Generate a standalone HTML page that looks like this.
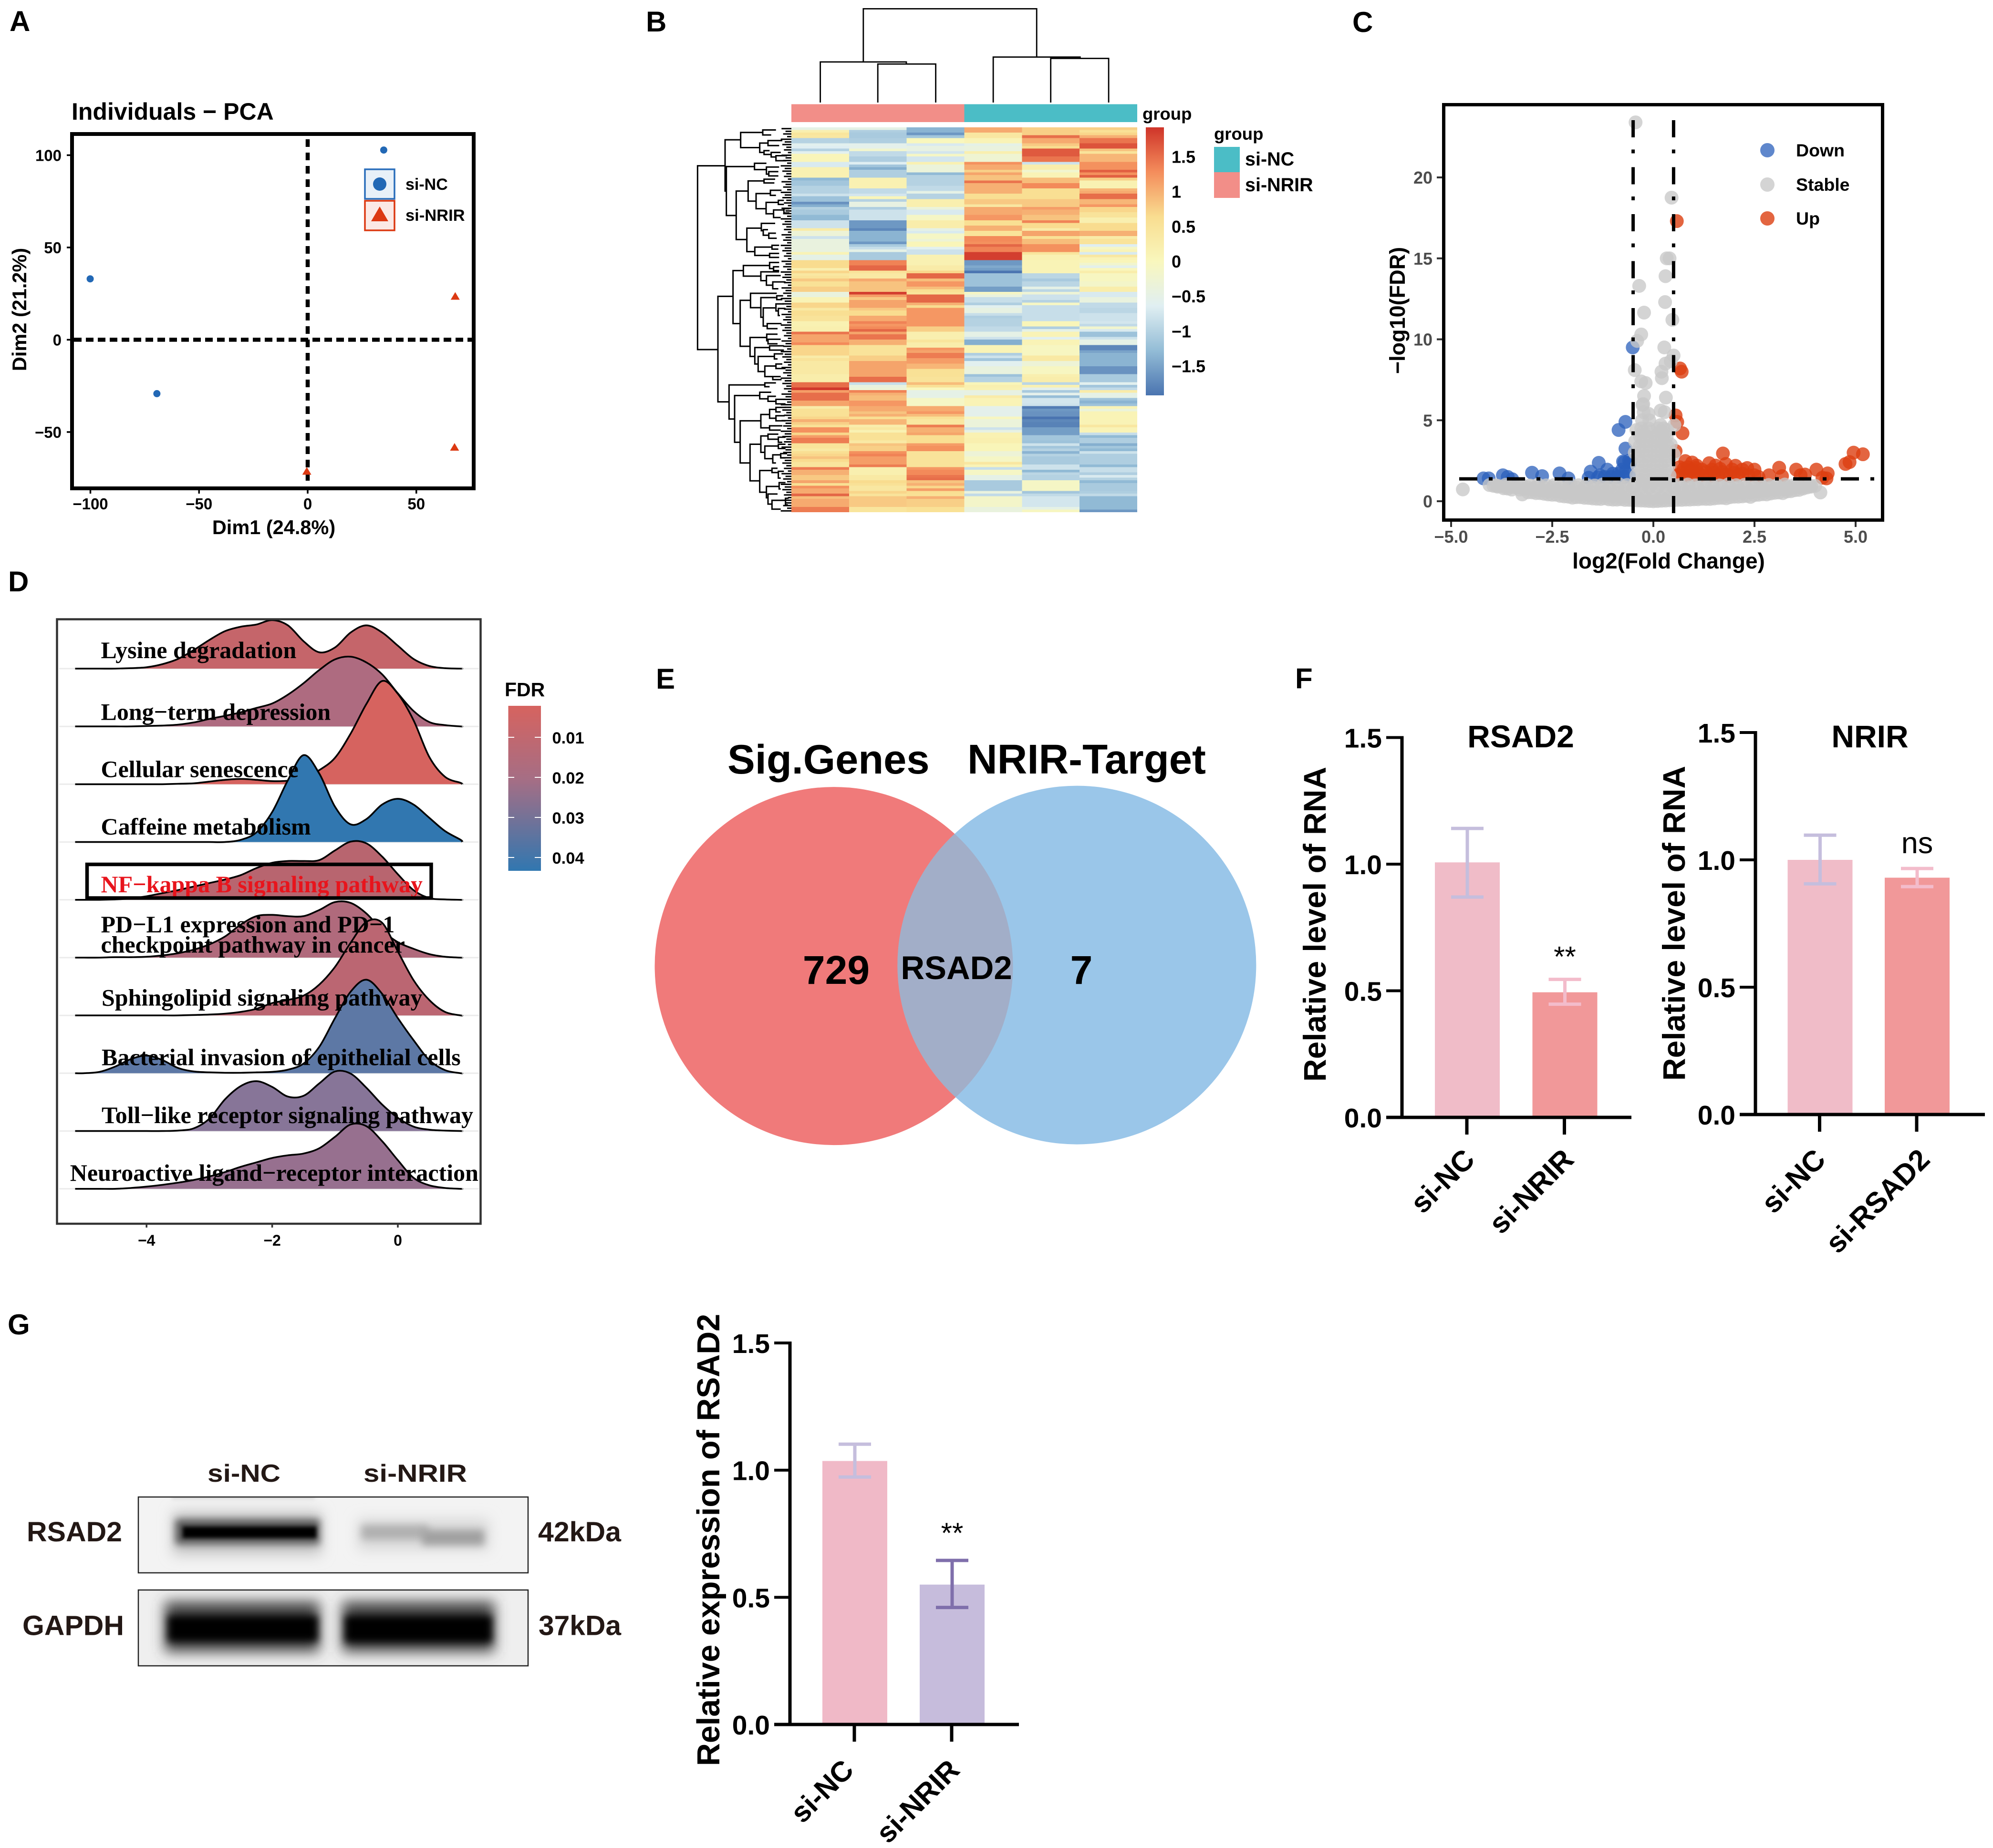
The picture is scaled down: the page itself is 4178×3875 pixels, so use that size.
<!DOCTYPE html>
<html lang="en">
<head>
<meta charset="utf-8">
<title>Multi-panel figure: NRIR knockdown and RSAD2 expression</title>
<style>
html,body{margin:0;padding:0;background:#fff;}
svg{display:block;font-family:"Liberation Sans",Arial,sans-serif;font-weight:bold;}
.serif{font-family:"Liberation Serif","Times New Roman",serif;font-weight:bold;}
.reg{font-weight:normal;}
</style>
</head>
<body>
<svg id="figure" xmlns="http://www.w3.org/2000/svg" width="4178" height="3875" viewBox="0 0 4178 3875">
<defs>
  <linearGradient id="heatRamp" x1="0" y1="0" x2="0" y2="1">
    <stop offset="0" stop-color="#cf3429"/><stop offset=".1667" stop-color="#f48d5c"/><stop offset=".3333" stop-color="#f9dd90"/><stop offset=".5" stop-color="#f9f7bd"/><stop offset=".6667" stop-color="#e0eff2"/><stop offset=".8333" stop-color="#93bcd6"/><stop offset="1" stop-color="#4a74b0"/>
  </linearGradient>
  <linearGradient id="fdrRamp" x1="0" y1="0" x2="0" y2="1">
    <stop offset="0" stop-color="#d6635f"/><stop offset=".45" stop-color="#a56e85"/><stop offset="1" stop-color="#3177b0"/>
  </linearGradient>
  <filter id="blur4" x="-20%" y="-150%" width="140%" height="400%"><feGaussianBlur stdDeviation="4"/></filter>
  <filter id="blur8" x="-20%" y="-150%" width="140%" height="400%"><feGaussianBlur stdDeviation="8"/></filter>
  <filter id="blur14" x="-20%" y="-150%" width="140%" height="400%"><feGaussianBlur stdDeviation="14"/></filter>
  <clipPath id="vennClip"><circle cx="1748" cy="2025.6" r="375.5"/></clipPath>
  <clipPath id="blotTop"><rect x="290" y="3139" width="817" height="159"/></clipPath>
  <clipPath id="blotBottom"><rect x="290" y="3334" width="817" height="159"/></clipPath>
</defs>

<rect width="4178" height="3875" fill="#fff"/>

<!-- panel letters -->
<text x="20" y="65" font-size="60">A</text>
<text x="1354" y="66" font-size="60">B</text>
<text x="2835" y="67" font-size="60">C</text>
<text x="17" y="1240" font-size="60">D</text>
<text x="1375" y="1444" font-size="60">E</text>
<text x="2715" y="1443" font-size="60">F</text>
<text x="16" y="2798" font-size="60">G</text>

<!-- A: PCA -->
<g id="panelA">
  <text x="150" y="251" font-size="50">Individuals − PCA</text>
  <text x="574" y="1120" font-size="41.5" text-anchor="middle">Dim1 (24.8%)</text>
  <text transform="translate(55 649) rotate(-90)" font-size="41.5" text-anchor="middle">Dim2 (21.2%)</text>
  <g>
    <rect x="765" y="355" width="62" height="62" fill="#e8f0f8" stroke="#2a6ebb" stroke-width="3.5"/>
    <circle cx="796" cy="386" r="14" fill="#2268b5"/>
    <rect x="765" y="421" width="62" height="62" fill="#fbe9e5" stroke="#dc3912" stroke-width="3.5"/>
    <polygon points="796,433 814,464 778,464" fill="#dc3912"/>
    <text x="850" y="398" font-size="34">si-NC</text>
    <text x="850" y="463" font-size="34.5">si-NRIR</text>
  </g>
</g>

<!-- B: heatmap -->
<g id="panelB">
  <rect x="1659" y="218.5" width="362.5" height="37.5" fill="#f28e88"/>
  <rect x="2021.5" y="218.5" width="362.5" height="37.5" fill="#4bbdc6"/>
  <text x="2395" y="251" font-size="36.5">group</text>
  <rect x="2402" y="267" width="38" height="562" fill="url(#heatRamp)"/>
  <text x="2545" y="293" font-size="36.5">group</text>
  <rect x="2545" y="308" width="54" height="53" fill="#4bbdc6"/>
  <rect x="2545" y="361" width="54" height="54" fill="#f28e88"/>
  <text x="2610" y="347" font-size="39.5">si-NC</text>
  <text x="2610" y="401" font-size="39.5">si-NRIR</text>
</g>

<!-- C: volcano -->
<g id="panelC">
  <text x="3498" y="1192" font-size="46" text-anchor="middle">log2(Fold Change)</text>
  <text transform="translate(2945 651) rotate(-90)" font-size="45" text-anchor="middle">−log10(FDR)</text>
</g>

<!-- D: ridges -->
<g id="panelD"></g>

<!-- E: Venn -->
<g id="panelE">
  <circle cx="1748" cy="2025.6" r="375.5" fill="#f07a7a"/>
  <circle cx="2257.4" cy="2023.6" r="376" fill="#9ac6e9"/>
  <circle cx="2257.4" cy="2023.6" r="376" fill="#a2aec8" clip-path="url(#vennClip)"/>
  <text x="1525" y="1622" font-size="86.6">Sig.Genes</text>
  <text x="2028" y="1622" font-size="86.8">NRIR-Target</text>
  <text x="1753" y="2063" font-size="84" text-anchor="middle">729</text>
  <text x="2005" y="2053" font-size="68.8" text-anchor="middle">RSAD2</text>
  <text x="2267" y="2063" font-size="84" text-anchor="middle">7</text>
</g>

<!-- F & G charts -->
<g id="panelF"></g>
<g id="panelG2"></g>

<!-- G: western blot -->
<g id="panelG">
  <text x="435" y="3107" font-size="52" textLength="153" lengthAdjust="spacingAndGlyphs" fill="#231815">si-NC</text>
  <text x="762" y="3107" font-size="52" textLength="217" lengthAdjust="spacingAndGlyphs" fill="#231815">si-NRIR</text>
  <g clip-path="url(#blotTop)">
    <rect x="290" y="3139" width="817" height="159" fill="#f3f3f3"/>
    <rect x="360" y="3132" width="300" height="12" fill="#dcdcdc" filter="url(#blur4)"/>
    <rect x="362" y="3170" width="312" height="90" fill="#c4c4c4" filter="url(#blur14)"/>
    <rect x="368" y="3186" width="302" height="52" fill="#555" filter="url(#blur8)"/>
    <rect x="383" y="3201" width="280" height="24" fill="#000" filter="url(#blur4)"/>
    <rect x="750" y="3185" width="275" height="65" fill="#d8d8d8" filter="url(#blur14)"/>
    <rect x="758" y="3198" width="140" height="30" fill="#b0b0b0" filter="url(#blur8)"/>
    <rect x="885" y="3208" width="130" height="32" fill="#a0a0a0" filter="url(#blur8)"/>
  </g>
  <rect x="290" y="3139" width="817" height="159" fill="none" stroke="#222" stroke-width="2.5"/>
  <g clip-path="url(#blotBottom)">
    <rect x="290" y="3334" width="817" height="159" fill="#efefef"/>
    <rect x="345" y="3358" width="325" height="106" fill="#444" filter="url(#blur14)"/>
    <rect x="717" y="3358" width="320" height="106" fill="#444" filter="url(#blur14)"/>
    <rect x="352" y="3388" width="314" height="54" fill="#000" filter="url(#blur8)"/>
    <rect x="723" y="3388" width="308" height="56" fill="#000" filter="url(#blur8)"/>
  </g>
  <rect x="290" y="3334" width="817" height="159" fill="none" stroke="#222" stroke-width="2.5"/>
  <text x="56" y="3232" font-size="58" textLength="200" lengthAdjust="spacingAndGlyphs" fill="#231815">RSAD2</text>
  <text x="47" y="3428.5" font-size="58" textLength="213" lengthAdjust="spacingAndGlyphs" fill="#231815">GAPDH</text>
  <text x="1128" y="3232" font-size="58" textLength="174" lengthAdjust="spacingAndGlyphs" fill="#231815">42kDa</text>
  <text x="1129" y="3428.5" font-size="58" textLength="173" lengthAdjust="spacingAndGlyphs" fill="#231815">37kDa</text>
</g>

<script>
/* ---------- Panel A data ---------- */
const pcaTicksX = [-100, -50, 0, 50];
const pcaTicksY = [-50, 0, 50, 100];
const pcaNcDim1 = [35, -100.1, -69.4];
const pcaNcDim2 = [102.8, 33, -29.2];
const pcaNrirDim1 = [67.9, 67.6, -0.4];
const pcaNrirDim2 = [23.5, -58.3, -71.3];

/* ---------- Panel B data: z-scores, one array per sample, one value per gene row ---------- */
const heatSampleNrir1 = [-.5,.2,.45,.4,-1,-1,-.6,-.65,-1,-.6,.05,.05,.05,-.7,-.7,.15,.15,.15,.15,-1.3,-1.15,-1.15,-1,-1,-1,-.8,-1.2,-1.2,-1.65,-1.4,-1,-1.1,-1.1,-1.3,-1.3,-.8,-.8,-.8,.3,-.3,-.3,-.8,-.4,-.4,-.4,-.4,-.4,.1,-.5,-.5,.65,.65,.65,.2,.7,.4,.5,.8,.55,.55,.75,.75,-.4,-.4,.1,.1,.7,.7,.35,.6,.6,.5,.5,.15,.15,.2,.2,1.45,1.1,1.1,1.1,1.3,.7,.7,.7,.7,.3,.5,.35,.35,.35,.35,.35,.25,.25,.25,1.5,1.5,1.9,1.15,1.5,1.5,1.5,1.1,1.1,.3,.55,.55,.55,.7,1,.75,.55,1.25,1.25,.7,1.15,1.4,1.4,.5,.5,.35,.6,.7,.85,.65,.45,.45,1.4,1,1,.8,.8,1.1,.6,1.25,1.05,1.05,1.55,.9,1.05,1.05,1.05,1.4,1.4];
const heatSampleNrir2 = [-.5,-1.05,-1.1,-1.1,-1.05,-1.05,-.55,-.55,-.2,-.9,-.9,-1.05,-1.05,-.65,-1.15,-1.4,-1.05,-1.05,-1.05,.15,.15,.15,.15,-.9,-.9,-.75,.05,-1,-.45,-.45,-1.05,-.8,-.8,-.8,-.8,-1.6,-1.6,-1.6,-1.75,-1.35,-1.35,-1.35,-1.35,-1.6,-1.1,-.85,-.5,-1.1,-1.1,-1.1,1.35,1.35,1.55,1.55,.5,.35,.35,1.05,.85,.85,.85,.85,1.85,1.15,.8,1.1,1.1,1.1,.8,.65,.65,1.05,1.05,1.35,1.2,1.3,1.55,1.1,1.45,1.45,1,1,.5,.5,.5,.5,.75,.75,1.1,1.1,1.1,1.1,1.1,1.1,1.5,1.5,-.85,-.4,-.3,1.35,1,.9,.9,1.2,1.2,1.05,1.05,.85,1,.6,.95,.95,.25,.4,.15,.55,.55,.55,.35,.85,.75,.75,1.25,1.35,1.15,1.15,1.15,1.4,.2,.2,.2,.35,.35,.65,.55,.4,.4,.7,.5,.8,.8,.8,.8,.45,.45];
const heatSampleNrir3 = [-1.35,-1.35,-1.6,-1.15,0,0,-.7,-.45,-.45,-.75,-.1,-.75,-.75,.15,-.35,-.35,-.35,-1.3,-1,-1,-1,-1,-.9,-.9,-.5,-1,-1,.2,.2,.2,-.35,-.7,-.7,-.1,-.1,.25,.25,.25,-.5,-.7,-.1,-.1,-.3,.05,.05,-.6,-.8,-.8,.15,.15,.15,.15,.3,.3,.7,1.55,1.55,.9,1.2,1.2,.9,.6,.5,1.55,1.55,1.55,1,.65,1.2,1.2,1.2,1.2,1.2,1.2,1.2,.75,.75,.2,.2,.2,.45,.25,.25,1.2,1.1,1.4,1.4,1.15,1.15,.95,.95,.55,.55,.55,.5,.5,.9,.55,0,-.5,-.5,-.5,-.1,-.1,-.1,1.05,1.05,1.2,.9,.55,.4,.4,1.4,1,1,1.1,.6,.6,.6,1.15,1.25,1.25,.5,.5,.5,.5,.5,.5,1.2,1.3,1.3,1.45,1.5,.85,1,.7,1.15,.6,.55,1,.75,.75,.75,.55,.55];
const heatSampleNc1 = [1.05,1.05,.4,.4,.1,.1,-.5,-.4,-.4,.2,-.25,-.25,-.25,1.25,1.05,1.05,.75,1.1,.85,.85,1.45,1,1,1,1,.6,.6,.8,.8,.4,1.05,1.05,1.05,1.2,1.2,.6,.6,1,1,.5,.5,1.3,1.3,1.25,1.55,1.35,1.35,1.85,1.85,1.85,-1.6,-1.6,-1.45,-1.55,-1.9,-1.2,-1.2,-1.2,-1.2,-1.2,-1.55,-1.55,-.1,-.4,-.85,-.85,-1.05,-.6,-.45,-.45,-.85,-1.05,-1,-1,-1,-.9,-.9,-.5,-.5,-.8,-1.4,-1.4,.1,.1,.1,-1.05,-.8,-1.15,-.6,-.6,-.4,-.4,-.4,-1.2,-1,-1,.05,.2,.15,-.45,-.45,.3,.1,.1,.1,-.55,-.55,-.55,-.55,-.05,-.35,-.35,-.35,-.8,-.45,.15,.15,.2,.2,.05,.05,.05,-.3,-.3,-.1,-.1,.4,.1,-.85,-.1,-.1,-.5,-.5,-1.1,-1.1,-1.1,-1.1,-.4,-.9,-.15,-.15,-.15,-.15,-.4,-.4];
const heatSampleNc2 = [.75,.75,.75,1.5,1.05,1.05,.8,.65,1.65,1.65,1.65,1.45,1.45,-.8,.25,.25,-.2,.1,.1,.9,.9,1.3,1.3,.6,.6,.6,.6,.8,.8,.8,1.15,1,1,.85,.85,1.35,.65,.65,.3,1.1,1.1,.55,.9,.9,1.25,1.25,1.25,.45,.15,.15,.1,.1,.1,.1,.1,-.95,-.95,-1.1,-.95,-.95,-.5,-.95,-.3,-.8,-.8,-1,-.1,-.85,-.85,-.85,-.85,-.85,-.85,.05,.05,-1.05,-.5,.1,.1,-.6,.1,.1,-.05,-.05,-.05,-.05,.35,.35,-.3,-.3,-.05,-.05,-.05,.2,.25,.25,-.95,.15,-.55,-1.1,-.55,-1.25,-.75,-.75,-.8,-1.85,-1.6,-1.65,-1.65,-1.92,-1.75,-1.8,-1.8,-1.55,-1.55,-1.55,-1.15,-1.15,-1.2,-.8,-1.15,-1,-1.35,-1,-1.1,-1.1,-1.1,-.8,-.8,-1.3,-.95,-1,-1,-.1,-.1,-.1,-.1,-1.15,-.9,-.75,-.75,-.75,-.75,-.5,-.05];
const heatSampleNc3 = [.75,.55,.7,1,1.45,1.45,1.7,1.7,.85,.5,.95,.95,.95,1.25,1.25,1.25,1.6,1.25,1.6,.75,.15,.15,.15,.95,1.05,1.5,1.5,.95,.95,1.2,.7,.7,.5,.5,.2,.2,.65,.65,.65,1,1,.3,.5,.5,-.65,-.1,.1,-.7,.4,.1,.05,-.2,-.55,0,.25,-.05,-.05,-.05,-.15,-.15,.25,.25,-.7,-.7,-.4,-.4,-.9,-.9,-.95,-.95,-.8,-.8,-.8,-.75,-.9,-.2,-.7,-1.2,-1.2,-.8,-.5,-.5,-1.75,-1.75,-1.5,-1.35,-1.35,-1.35,-1.35,-1.35,-1.65,-1.65,-1.65,-1.1,-1.1,-1.1,-.6,-1.15,-.9,.3,-.5,-.5,-1.2,-1.35,-1.2,.1,-.35,.1,.1,.1,.1,.1,.4,.1,.1,-.85,-1.3,-1.05,-1.05,-1.4,-1.15,-1.3,-.8,-1.05,-1.05,-1.05,-1.05,-1.3,-.85,-.85,-1.05,-.7,-1,-1.3,-1.1,-1.1,-1.1,-1.05,-.9,-1.3,-1.3,-1.3,-1.3,-1.3,-1.6];
const heatColorbarTicks = [1.5, 1, 0.5, 0, -0.5, -1, -1.5];

/* ---------- Panel C data ---------- */
const volcanoTicksX = [-5, -2.5, 0, 2.5, 5];
const volcanoTicksY = [0, 5, 10, 15, 20];
const volcanoFoldCutoffs = [-0.5, 0.5];
const volcanoFdrCutoff = 1.38;
const volcanoDown = [[-.51,9.5],[-.69,4.9],[-.86,4.4],[-.69,3.25],[-.72,2.4],[-.57,2.4],[-1.35,2.37],[-1.55,1.83],[-1.14,1.95],[-1,1.7],[-.77,1.95],[-3,1.76],[-2.75,1.55],[-2.32,1.72],[-2.1,1.41],[-3.72,1.6],[-3.49,1.36],[-4.2,1.41],[-4.07,1.41],[-1.37,1.48],[-.75,2.45],[-.6,2.5],[-.86,1.7],[-.68,1.85],[-1.6,1.45],[-1.32,1.6],[-3.6,1.5],[-.9,1.5],[-.6,1.7],[-.72,1.5],[-1.2,1.5],[-1.05,1.5]];
const volcanoUp = [[.58,17.3],[.66,8.2],[.7,8],[.55,5.3],[.59,4.9],[.72,4.2],[.55,3.1],[1.72,2.95],[4.95,3],[5.18,2.9],[4.85,2.42],[4.75,2.3],[3.11,2.07],[3.53,1.95],[4.03,1.95],[4.31,1.72],[4.28,1.41],[2.03,2.19],[1.38,2.35],[.79,2.48],[.96,2.39],[1.07,2.2],[1.54,2.2],[1.79,2.3],[2.32,2.05],[2.5,1.95],[2.86,1.6],[3.18,1.55],[3.64,1.6],[3.75,1.65],[4.18,1.45],[.6,1.6],[.7,1.75],[.8,1.55],[.9,1.8],[1,1.6],[1.1,1.75],[1.2,1.6],[1.3,1.8],[1.4,1.55],[1.5,1.75],[1.6,1.6],[1.7,1.8],[1.8,1.65],[1.9,1.55],[2,1.75],[2.1,1.6],[2.2,1.7],[2.35,1.6],[2.5,1.6],[2.6,1.5],[.65,2.1],[.75,2],[.85,2.1],[.95,1.95],[1.05,2.05],[1.2,1.95],[1.45,1.95],[1.65,2],[1.95,1.95],[2.2,1.95]];
const volcanoStable = [[-.44,23.4],[.45,18.75],[.4,15],[.33,15],[.3,13.9],[-.35,13.3],[-.23,11.65],[.29,12.3],[.47,11.2],[-.3,10.3],[-.4,9.9],[.27,9.5],[.5,9],[.3,8.5],[.43,8.65],[-.46,8.1],[.2,8],[.21,7.6],[-.3,7.4],[-.19,7.3],[-.23,6.5],[.31,6.4],[-.27,5.95],[.18,5.6],[.28,5.5],[-4.71,.73],[4.13,.54],[-3.24,.42],
[-4.05,1],[-3.85,.95],[-3.65,1.02],[-3.45,.98],[-3.25,1],[-3.05,.97],[-2.85,1.03],[-2.65,.98],[-2.45,1],[-2.25,.96],[-2.05,1.02],[-1.85,.99],[-1.65,1.01],[-1.45,.97],[-1.25,1.03],[-1.05,1],[-.85,1.05],[-.65,1],[-.45,1.1],[-.25,1.05],[-.05,1.02],[.15,1.05],[.3,1.08],[.45,1.1],[.65,1],[.85,1.03],[1.05,.98],[1.25,1.02],[1.45,1],[1.65,.97],[1.85,1.03],[2.05,.99],[2.25,1.01],[2.45,.96],[2.65,1.02],[2.85,1],[3.05,.98],[3.25,1.03],[3.45,.97],[3.65,1],[3.85,.96],[4,.95],
[-3.95,.95],[-3.7,.8],[-3.5,.72],[-3,.55],[-2.8,.5],[-2.6,.42],[-2.4,.4],[-2.2,.3],[-2,.22],[-1.8,.25],[-1.6,.2],[-1.4,.15],[-1.2,.18],[-1,.1],[-.8,.12],[-.6,.08],[-.4,.05],[-.2,.03],[0,0],[.2,.03],[.4,.06],[.6,.08],[.8,.1],[1,.12],[1.2,.15],[1.4,.14],[1.6,.2],[1.8,.18],[2,.28],[2.2,.3],[2.4,.27],[2.6,.4],[2.8,.42],[3,.52],[3.2,.5],[3.4,.62],[3.6,.7],[3.8,.85],
[-3.3,.72],[-3,.78],[-2.7,.66],[-2.4,.7],[-2.1,.6],[-1.8,.62],[-1.5,.55],[-1.2,.6],[-.9,.52],[-.6,.55],[-.3,.5],[0,.52],[.3,.5],[.6,.55],[.9,.58],[1.2,.55],[1.5,.6],[1.8,.58],[2.1,.66],[2.4,.62],[2.7,.72],[3,.76],[3.3,.74],
[-3.6,.92],[-3.4,.85],[-3.2,.75],[-3,.72],[-2.8,.7],[-2.6,.62],[-2.4,.6],[-2.2,.52],[-2,.48],[-1.8,.46],[-1.6,.42],[-1.4,.38],[-1.2,.36],[-1,.32],[-.8,.3],[-.6,.28],[-.4,.26],[-.2,.24],[0,.22],[.2,.24],[.4,.26],[.6,.28],[.8,.3],[1,.32],[1.2,.36],[1.4,.38],[1.6,.42],[1.8,.44],[2,.48],[2.2,.52],[2.4,.56],[2.6,.62],[2.8,.66],[3,.72],[3.2,.76],[3.4,.82],[3.6,.88],
[-3.85,.9],[-3.6,.78],[-3.1,.55],[-2.9,.5],[-2.7,.46],[-2.5,.4],[-2.3,.33],[-2.1,.28],[-1.9,.25],[-1.7,.21],[-1.5,.17],[-1.3,.14],[-1.1,.12],[-.9,.1],[-.7,.08],[-.5,.06],[-.3,.04],[-.1,.01],[.1,.01],[.3,.04],[.5,.06],[.7,.08],[.9,.1],[1.1,.12],[1.3,.14],[1.5,.17],[1.7,.21],[1.9,.25],[2.1,.28],[2.3,.33],[2.5,.38],[2.7,.43],[2.9,.48],[3.1,.54],[3.3,.6],[3.5,.68],[3.7,.78],[3.9,.9],
[-3.9,.98],[-3.7,.9],[-3.5,.88],[-3.3,.88],[-3.1,.85],[-2.9,.85],[-2.7,.85],[-2.5,.85],[-2.3,.85],[-2.1,.85],[-1.9,.85],[-1.7,.85],[-1.5,.85],[-1.3,.85],[-1.1,.85],[-.9,.85],[-.7,.85],[-.5,.85],[-.3,.85],[-.1,.85],[.1,.85],[.3,.85],[.5,.85],[.7,.85],[.9,.85],[1.1,.85],[1.3,.85],[1.5,.85],[1.7,.85],[1.9,.85],[2.1,.85],[2.3,.85],[2.5,.85],[2.7,.85],[2.9,.85],[3.1,.85],[3.3,.88],[3.5,.88],[3.7,.9],[3.9,.95],
[-.42,1.6],[-.2,1.6],[0,1.6],[.2,1.6],[.4,1.6],[-.4,2.2],[-.2,2.2],[0,2.2],[.2,2.2],[.38,2.2],[-.38,2.8],[-.18,2.8],[.02,2.8],[.2,2.8],[.36,2.8],[-.34,3.4],[-.18,3.4],[.03,3.4],[.2,3.4],[.36,3.4],[-.33,4],[-.16,4],[.05,4],[.22,4],[.33,4],[-.3,4.5],[-.12,4.5],[.12,4.5],[.25,4.5],[.34,4.4],[-.28,5],[-.1,5],[.18,4.7],[-.24,5.5],[-.12,5.4],[-.25,6],[-.42,4.4],[-.45,3.7],[-.46,3],[.43,3.5],[.5,2.9],[.52,4.7],
[-.3,1.3],[-.1,1.3],[.1,1.3],[.3,1.3],[-.3,1.9],[-.1,1.9],[.1,1.9],[.3,1.9],[-.3,2.5],[-.1,2.5],[.1,2.5],[.3,2.5],[-.28,3.1],[-.08,3.1],[.12,3.1],[.3,3.1],[-.26,3.7],[-.08,3.7],[.12,3.7],[.28,3.7],[-.25,4.3],[-.08,4.3],[.16,4.3],[.28,4.2]];

/* ---------- Panel D data ---------- */
const ridgeGrid = [-5,-4.75,-4.5,-4.25,-4,-3.75,-3.5,-3.25,-3,-2.75,-2.5,-2.25,-2,-1.75,-1.5,-1.25,-1,-.75,-.5,-.25,0,.25,.5,.75,1];
const ridgeLysine = [0,0,0,1,3,10,22,42,65,85,95,100,110,98,62,37,48,82,98,82,52,22,6,1,0];
const ridgeLongTerm = [0,0,0,0,1,2,4,9,17,24,32,42,52,72,98,128,152,158,145,118,75,35,10,3,0];
const ridgeSenescence = [0,0,0,0,0,0,1,2,6,10,12,10,7,8,14,32,60,115,182,234,205,145,62,17,3];
const ridgeCaffeine = [0,0,0,0,0,0,0,0,0,0,5,22,68,140,197,155,80,40,52,85,98,85,55,25,5];
const ridgeNfkb = [0,0,1,3,8,15,22,30,38,46,56,72,84,88,88,90,112,132,128,98,58,22,4,1,0];
const ridgePdl1 = [0,0,1,1,2,5,10,18,30,48,75,94,97,94,94,108,126,124,100,62,35,20,8,2,0];
const ridgeSphingolipid = [0,0,0,0,0,0,0,1,2,4,8,15,28,35,45,70,110,165,212,210,145,80,35,8,0];
const ridgeBacterial = [0,3,15,32,40,30,12,4,2,1,1,2,3,8,22,60,125,185,212,180,125,75,30,7,0];
const ridgeToll = [0,0,0,0,0,0,1,6,28,72,102,113,100,78,80,108,135,130,98,60,30,10,3,1,0];
const ridgeNeuroactive = [0,0,0,2,5,9,14,20,28,38,50,60,70,76,80,92,118,146,142,108,65,25,8,2,0];
const ridgeTicks = [-4, -2, 0];
const fdrTicks = ["0.01", "0.02", "0.03", "0.04"];

/* ---------- Panels F and G data ---------- */
const barAxisTicks = [0, 0.5, 1, 1.5];
const rsad2RnaGroups = ["si-NC", "si-NRIR"];
const rsad2RnaMeans = [1.007, 0.494];
const rsad2RnaUpper = [1.141, 0.545];
const rsad2RnaLower = [0.87, 0.447];
const nrirRnaGroups = ["si-NC", "si-RSAD2"];
const nrirRnaMeans = [1.0, 0.93];
const nrirRnaUpper = [1.097, 0.966];
const nrirRnaLower = [0.906, 0.895];
const rsad2ProteinGroups = ["si-NC", "si-NRIR"];
const rsad2ProteinMeans = [1.036, 0.55];
const rsad2ProteinUpper = [1.102, 0.645];
const rsad2ProteinLower = [0.973, 0.46];

/* ---------- helpers ---------- */
const SVGNS = "http://www.w3.org/2000/svg";
function el(tag, attrs, parent) {
  const e = document.createElementNS(SVGNS, tag);
  for (const k in attrs) e.setAttribute(k, attrs[k]);
  parent.appendChild(e);
  return e;
}
function fmtMinus(v) { return String(v).replace("-", "\u2212"); }
function smoothPath(pts) {
  let d = "M" + pts[0][0] + " " + pts[0][1];
  for (let i = 0; i < pts.length - 1; i++) {
    const p0 = pts[Math.max(i - 1, 0)], p1 = pts[i], p2 = pts[i + 1], p3 = pts[Math.min(i + 2, pts.length - 1)];
    const c1x = p1[0] + (p2[0] - p0[0]) / 6, c1y = p1[1] + (p2[1] - p0[1]) / 6;
    const c2x = p2[0] - (p3[0] - p1[0]) / 6, c2y = p2[1] - (p3[1] - p1[1]) / 6;
    d += "C" + c1x.toFixed(1) + " " + c1y.toFixed(1) + " " + c2x.toFixed(1) + " " + c2y.toFixed(1) + " " + p2[0].toFixed(1) + " " + p2[1].toFixed(1);
  }
  return d;
}

/* ---------- Panel A ---------- */
(function () {
  const g = document.getElementById("panelA");
  const x = v => 645 + 4.555 * v;
  const y = v => 712.4 - 3.87 * v;
  pcaTicksX.forEach(t => {
    const m = el("line", { x1: x(t), x2: x(t), y1: 1024, y2: 1035, stroke: "#000", "stroke-width": 3.5 }, g);
    
    
    const l = el("text", { x: x(t), y: 1068, "font-size": 33, "text-anchor": "middle" }, g);
    
    
    l.textContent = fmtMinus(t);
  });
  pcaTicksY.forEach(t => {
    const m = el("line", { x1: 140, x2: 151, y1: y(t), y2: y(t), stroke: "#000", "stroke-width": 3.5 }, g);
    
    
    const l = el("text", { x: 129, y: y(t) + 12, "font-size": 33, "text-anchor": "end" }, g);
    
    
    l.textContent = fmtMinus(t);
  });
  const v0 = el("line", { x1: x(0), x2: x(0), y1: 292, y2: 1020, stroke: "#000", "stroke-width": 8.5, "stroke-dasharray": "16 12" }, g);
  
  
  const h0 = el("line", { x1: 155, x2: 989, y1: y(0), y2: y(0), stroke: "#000", "stroke-width": 8.5, "stroke-dasharray": "16 9" }, g);
  
  
  pcaNcDim1.forEach((d, i) => {
    const p = el("circle", { cx: x(d), cy: y(pcaNcDim2[i]), r: 7.5, fill: "#2268b5" }, g);
    
    
  });
  pcaNrirDim1.forEach((d, i) => {
    const cx = x(d), cy = y(pcaNrirDim2[i]);
    const p = el("polygon", { points: cx + "," + (cy - 9) + " " + (cx + 9.5) + "," + (cy + 7) + " " + (cx - 9.5) + "," + (cy + 7), fill: "#dc3912" }, g);
    
    
  });
  const frame = el("rect", { x: 151, y: 281, width: 842, height: 743, fill: "none", stroke: "#000", "stroke-width": 8 }, g);
  
  
})();

/* ---------- Panel B ---------- */
(function () {
  const g = document.getElementById("panelB");
  const samples = [heatSampleNrir1, heatSampleNrir2, heatSampleNrir3, heatSampleNc1, heatSampleNc2, heatSampleNc3];
  const stops = [[-1.92,[74,116,176]],[-1.28,[147,188,214]],[-.64,[224,239,242]],[0,[249,247,189]],[.64,[249,221,144]],[1.28,[244,141,92]],[1.92,[207,52,41]]];
  function color(v) {
    v = Math.max(-1.92, Math.min(1.92, v));
    for (let i = 0; i < stops.length - 1; i++) {
      if (v <= stops[i + 1][0]) {
        const t = (v - stops[i][0]) / (stops[i + 1][0] - stops[i][0]);
        const c = stops[i][1].map((a, k) => Math.round(a + (stops[i + 1][1][k] - a) * t));
        return "rgb(" + c.join(",") + ")";
      }
    }
    return "rgb(207,52,41)";
  }
  const colX = c => 1659 + c * 120.83;
  const rowY = (r, n) => 267 + r * 807 / n;
  samples.forEach((arr, c) => {
    arr.forEach((v, r) => {
      const cell = el("rect", { x: colX(c), y: rowY(r, arr.length), width: 120.83, height: 807 / arr.length, fill: color(v), "shape-rendering": "crispEdges" }, g);
      
      
    });
  });
  const cbY = v => 548 - 146.4 * v;
  heatColorbarTicks.forEach(t => {
    const l = el("text", { x: 2456, y: cbY(t) + 13, "font-size": 36 }, g);
    
    
    l.textContent = fmtMinus(t);
  });

  /* column dendrogram */
  const topBrackets = [[459,866,25,177,163],[358,560,177,293,183],[493,629,183,293,293],[764,968,163,293,167],[899,1035,167,293,293]];
  topBrackets.forEach(b => {
    const X = z => 1400 + z / 1.12, Y = z => z / 1.363;
    const p = el("path", { d: "M" + X(b[0]) + " " + Y(b[3]) + "V" + Y(b[2]) + "H" + X(b[1]) + "V" + Y(b[4]), fill: "none", stroke: "#000", "stroke-width": 2.8 }, g);
    
    
  });

  /* row dendrogram */
  const branches = [[37,175,903,210,165],[210,72,275,308,218],[308,43,103,447,428],[447,33,53,530,500],[428,85,122,480,455],[480,75,95,570,550],[455,115,130,490,500],[500,122,140,560,530],[530,135,155,600,595],[218,178,372,395,280],[395,165,190,470,470],[470,180,208,550,485],[485,198,215,545,545],[280,275,467,355,347],[355,235,315,455,405],[455,228,243,525,520],[405,285,345,495,468],[495,272,292,565,530],[468,320,365,545,515],[545,312,328,580,580],[515,350,380,580,560],[580,345,362,615,615],[347,422,515,438,397],[438,403,432,525,450],[450,428,450,480,485],[485,442,462,530,535],[397,497,530,505,490],[505,490,505,550,545],[490,522,538,550,550],[165,692,1110,260,235],[260,590,800,325,305],[325,570,612,490,435],[490,558,582,550,515],[515,575,590,550,550],[435,595,630,550,470],[470,610,648,560,510],[510,635,662,590,545],[305,708,890,370,367],[370,680,737,535,435],[535,690,705,575,570],[435,697,775,530,450],[530,722,750,580,545],[545,740,768,590,555],[450,738,810,525,475],[475,800,820,565,540],[367,855,930,472,397],[472,842,868,540,480],[480,862,880,560,540],[397,895,960,490,418],[490,888,905,580,580],[418,930,990,520,460],[520,920,940,575,540],[460,968,1010,530,510],[530,960,978,570,590],[510,1010,1022,560,565],[235,1043,1178,460,270],[460,1035,1050,530,490],[270,1085,1270,428,305],[428,1072,1098,500,480],[480,1088,1108,530,530],[530,1100,1118,590,590],[305,1185,1352,435,367],[435,1160,1213,490,490],[490,1140,1175,530,530],[530,1132,1150,590,560],[530,1165,1185,585,590],[490,1205,1222,570,560],[367,1278,1423,435,428],[435,1245,1310,480,460],[480,1238,1258,545,545],[545,1250,1270,590,570],[460,1285,1335,545,510],[545,1278,1295,590,590],[510,1320,1352,560,530],[560,1315,1332,600,590],[428,1382,1468,505,470],[505,1373,1390,540,545],[545,1385,1412,580,560],[470,1445,1490,550,480],[550,1430,1455,590,560],[480,1475,1515,540,505],[505,1500,1535,590,560],[590,1492,1518,610,605]];
  const DX = z => 1450 + z / 3, DY = z => 255 + z / 1.889;
  branches.forEach(b => {
    const p = el("path", { d: "M" + DX(b[3]) + " " + DY(b[1]) + "H" + DX(b[0]) + "V" + DY(b[2]) + "H" + DX(b[4]), fill: "none", stroke: "#000", "stroke-width": 3 }, g);
    
    
  });
  const leafStarts = [565,590,575,600,560,585,570,595,580,605];
  heatSampleNrir1.forEach((v, r) => {
    const yy = rowY(r + 0.5, heatSampleNrir1.length);
    const p = el("line", { x1: DX(leafStarts[r % leafStarts.length]), x2: 1659, y1: yy, y2: yy, stroke: "#000", "stroke-width": 3 }, g);
    
    
  });
})();

/* ---------- Panel C ---------- */
(function () {
  const g = document.getElementById("panelC");
  const x = v => 3466 + 84.8 * v;
  const y = v => 1051 - 33.95 * v;
  volcanoDown.forEach(p => {
    const c = el("circle", { cx: x(p[0]), cy: y(p[1]), r: 14.5, fill: "#2a5fbb", "fill-opacity": .75 }, g);
    
    
  });
  volcanoUp.forEach(p => {
    const c = el("circle", { cx: x(p[0]), cy: y(p[1]), r: 14.5, fill: "#dc3f10", "fill-opacity": .8 }, g);
    
    
  });
  volcanoStable.forEach(p => {
    const c = el("circle", { cx: x(p[0]), cy: y(p[1]), r: 14.5, fill: "#c8c8c8", "fill-opacity": .78 }, g);
    
    
  });
  volcanoFoldCutoffs.forEach(t => {
    const l = el("line", { x1: x(t), x2: x(t), y1: 1076, y2: 225, stroke: "#000", "stroke-width": 7, "stroke-dasharray": "36 29 8 25.5" }, g);
    
    
  });
  const hl = el("line", { x1: 3059, x2: 3934, y1: y(volcanoFdrCutoff), y2: y(volcanoFdrCutoff), stroke: "#000", "stroke-width": 7, "stroke-dasharray": "38 24 8 30" }, g);
  
  
  volcanoTicksX.forEach(t => {
    const m = el("line", { x1: x(t), x2: x(t), y1: 1094, y2: 1105, stroke: "#333", "stroke-width": 4 }, g);
    
    
    const l = el("text", { x: x(t), y: 1138, "font-size": 36, "text-anchor": "middle", fill: "#4d4d4d" }, g);
    
    
    l.textContent = fmtMinus(t.toFixed(1));
  });
  volcanoTicksY.forEach(t => {
    const m = el("line", { x1: 3012, x2: 3023, y1: y(t), y2: y(t), stroke: "#333", "stroke-width": 4 }, g);
    
    
    const l = el("text", { x: 3003, y: y(t) + 13, "font-size": 36, "text-anchor": "end", fill: "#4d4d4d" }, g);
    
    
    l.textContent = t;
  });
  const frame = el("rect", { x: 3026.5, y: 219.5, width: 920, height: 871, fill: "none", stroke: "#000", "stroke-width": 7 }, g);
  
  
  [["Down", "#2a5fbb", .75, 315], ["Stable", "#c8c8c8", .78, 387], ["Up", "#dc3f10", .8, 458]].forEach(e => {
    const dot = el("circle", { cx: 3705, cy: e[3], r: 15, fill: e[1], "fill-opacity": e[2] }, g);
    
    
    const t = el("text", { x: 3765, y: e[3] + 13, "font-size": 37.5 }, g);
    
    
    t.textContent = e[0];
  });
})();

/* ---------- Panel D ---------- */
(function () {
  const g = document.getElementById("panelD");
  const x = v => 834 + 131.7 * v;
  const ridges = [
    [ridgeLysine, "#c5656a"], [ridgeLongTerm, "#ae6b80"], [ridgeSenescence, "#d6635f"], [ridgeCaffeine, "#3177b0"],
    [ridgeNfkb, "#b8656f"], [ridgePdl1, "#b06a7c"], [ridgeSphingolipid, "#bb6672"], [ridgeBacterial, "#5d78a5"],
    [ridgeToll, "#877598"], [ridgeNeuroactive, "#97708f"]
  ];
  const base = i => 1402 + i * 121.2;
  ridges.forEach((r, i) => {
    const gl = el("line", { x1: 124, x2: 1004, y1: base(i), y2: base(i), stroke: "#ebebeb", "stroke-width": 3 }, g);
    
    
  });
  ridges.forEach((r, i) => {
    const b = base(i);
    const pts = ridgeGrid.map((v, k) => [x(v), b - r[0][k] * 0.925]);
    const full = [[157.5, b]].concat(pts).concat([[968.5, b]]);
    const d = smoothPath(full);
    const area = el("path", { d: d + "Z", fill: r[1], stroke: "none" }, g);
    
    
    const line = el("path", { d: d, fill: "none", stroke: "#000", "stroke-width": 3.6 }, g);
    
    
  });
  const labels = [
    ["Lysine degradation", 211.5, 1380, "#000"], ["Long\u2212term depression", 211.5, 1509.3, "#000"],
    ["Cellular senescence", 211.5, 1629.6, "#000"], ["Caffeine metabolism", 211.5, 1749.8, "#000"],
    ["NF\u2212kappa B signaling pathway", 211.5, 1871, "#e8141c"], ["PD\u2212L1 expression and PD\u22121", 211.5, 1955.2, "#000"],
    ["checkpoint pathway in cancer", 211.5, 1997.7, "#000"], ["Sphingolipid signaling pathway", 213, 2108.7, "#000"],
    ["Bacterial invasion of epithelial cells", 213, 2233.6, "#000"], ["Toll\u2212like receptor signaling pathway", 213, 2354.8, "#000"],
    ["Neuroactive ligand\u2212receptor interaction", 146.8, 2476, "#000"]
  ];
  labels.forEach(l => {
    const t = el("text", { x: l[1], y: l[2], "font-size": 50, fill: l[3], "class": "serif" }, g);
    
    
    t.textContent = l[0];
  });
  const box = el("rect", { x: 182.5, y: 1812.5, width: 721.5, height: 70.5, fill: "none", stroke: "#000", "stroke-width": 7.5 }, g);
  
  
  const frame = el("rect", { x: 119.5, y: 1298.5, width: 888, height: 1267.5, fill: "none", stroke: "#333", "stroke-width": 4.5 }, g);
  
  
  ridgeTicks.forEach(t => {
    const m = el("line", { x1: x(t), x2: x(t), y1: 2566, y2: 2574, stroke: "#333", "stroke-width": 3.5 }, g);
    
    
    const l = el("text", { x: x(t), y: 2612, "font-size": 32, "text-anchor": "middle" }, g);
    
    
    l.textContent = fmtMinus(t);
  });
  const ft = el("text", { x: 1058, y: 1460, "font-size": 41 }, g);
  
  
  ft.textContent = "FDR";
  const bar = el("rect", { x: 1065.5, y: 1480, width: 68.5, height: 346, fill: "url(#fdrRamp)" }, g);
  
  
  fdrTicks.forEach((lab, i) => {
    const yy = 1546 + i * 84;
    const a = el("line", { x1: 1065.5, x2: 1078, y1: yy, y2: yy, stroke: "#fff", "stroke-width": 2 }, g);
    
    
    const b = el("line", { x1: 1121, x2: 1134, y1: yy, y2: yy, stroke: "#fff", "stroke-width": 2 }, g);
    
    
    const t = el("text", { x: 1157.5, y: yy + 13, "font-size": 34.5 }, g);
    
    
    t.textContent = lab;
  });
})();

/* ---------- Bar charts (F, G) ---------- */
function drawBars(g, cfg) {
  const y = v => cfg.y0 - cfg.yScale * v;
  const cx = i => cfg.first + i * cfg.step;
  cfg.means.forEach((m, i) => {
    const b = el("rect", { x: cx(i) - 68, y: y(m), width: 136, height: y(0) - y(m), fill: cfg.barColors[i] }, g);
    
    
  });
  cfg.means.forEach((m, i) => {
    const ec = cfg.errColors[i];
    const stem = el("line", { x1: cx(i), x2: cx(i), y1: y(cfg.upper[i]), y2: y(cfg.lower[i]), stroke: ec, "stroke-width": 7 }, g);
    
    
    [cfg.upper[i], cfg.lower[i]].forEach(v => {
      const cap = el("line", { x1: cx(i) - 34, x2: cx(i) + 34, y1: y(v), y2: y(v), stroke: ec, "stroke-width": 7 }, g);
      
      
    });
    const tick = el("line", { x1: cx(i) - 1, x2: cx(i) - 1, y1: y(0), y2: y(0) + 36, stroke: "#000", "stroke-width": 7 }, g);
    
    
    const tx = cx(i) + cfg.labelDx[i], ty = y(0) + cfg.labelDy;
    const lab = el("text", { x: tx, y: ty, "font-size": cfg.labelSize, "text-anchor": "end", transform: "rotate(-45 " + tx + " " + ty + ")" }, g);
    
    
    lab.textContent = cfg.groups[i];
  });
  const yax = el("line", { x1: cfg.x0, x2: cfg.x0, y1: y(1.5) - 3, y2: y(0) + 3, stroke: "#000", "stroke-width": 7 }, g);
  
  
  const xax = el("line", { x1: cfg.x0 - 33, x2: cfg.xEnd, y1: y(0), y2: y(0), stroke: "#000", "stroke-width": 7 }, g);
  
  
  barAxisTicks.forEach(t => {
    const m = el("line", { x1: cfg.x0 - 33, x2: cfg.x0, y1: y(t), y2: y(t), stroke: "#000", "stroke-width": 6 }, g);
    
    
    const l = el("text", { x: cfg.x0 - 42, y: y(t) + 21, "font-size": 57, "text-anchor": "end" }, g);
    
    
    l.textContent = t.toFixed(1);
  });
  const yt = el("text", { transform: "translate(" + cfg.titleX + " " + cfg.titleY + ") rotate(-90)", "font-size": cfg.titleSize, "text-anchor": "middle" }, g);
  
  
  yt.textContent = cfg.yTitle;
  if (cfg.chartTitle) {
    const tt = el("text", { x: cfg.chartTitleX, y: 1567, "font-size": 66, "text-anchor": "middle" }, g);
    
    
    tt.textContent = cfg.chartTitle;
  }
  const n = el("text", { x: cx(1), y: y(cfg.upper[1]) + cfg.noteOffset, "font-size": cfg.noteSize, "text-anchor": "middle", "class": "reg" }, g);
  
  
  n.textContent = cfg.note;
}
drawBars(document.getElementById("panelF"), {
  name: "rsad2", groups: rsad2RnaGroups, means: rsad2RnaMeans, upper: rsad2RnaUpper, lower: rsad2RnaLower,
  y0: 2343, yScale: 531, x0: 2939, xEnd: 3420, first: 3076, step: 204.5,
  barColors: ["#f0bcc8", "#f19899"], errColors: ["#c5bedd", "#f3bccb"],
  labelDx: [19, 22], labelDy: 92, labelSize: 61,
  titleX: 2779, titleY: 1938, titleSize: 66, yTitle: "Relative level of RNA",
  chartTitle: "RSAD2", chartTitleX: 3188, note: "**", noteOffset: -27, noteSize: 60
});
drawBars(document.getElementById("panelF"), {
  name: "nrir", groups: nrirRnaGroups, means: nrirRnaMeans, upper: nrirRnaUpper, lower: nrirRnaLower,
  y0: 2337, yScale: 534, x0: 3680, xEnd: 4161, first: 3815.5, step: 203.5,
  barColors: ["#f0bcc8", "#f19899"], errColors: ["#c5bedd", "#f3bccb"],
  labelDx: [15, 30], labelDy: 98, labelSize: 61,
  titleX: 3532, titleY: 1936, titleSize: 66, yTitle: "Relative level of RNA",
  chartTitle: "NRIR", chartTitleX: 3920, note: "ns", noteOffset: -32, noteSize: 63
});
drawBars(document.getElementById("panelG2"), {
  name: "protein", groups: rsad2ProteinGroups, means: rsad2ProteinMeans, upper: rsad2ProteinUpper, lower: rsad2ProteinLower,
  y0: 3616, yScale: 533.3, x0: 1656, xEnd: 2136, first: 1792, step: 204,
  barColors: ["#f0b9c7", "#c6bcdc"], errColors: ["#c5bedd", "#7f6fab"],
  labelDx: [1, 19], labelDy: 99, labelSize: 60,
  titleX: 1508, titleY: 3229, titleSize: 66.4, yTitle: "Relative expression of RSAD2",
  chartTitle: "", chartTitleX: 0, note: "**", noteOffset: -37, noteSize: 60
});
</script>
</svg>
</body>
</html>
